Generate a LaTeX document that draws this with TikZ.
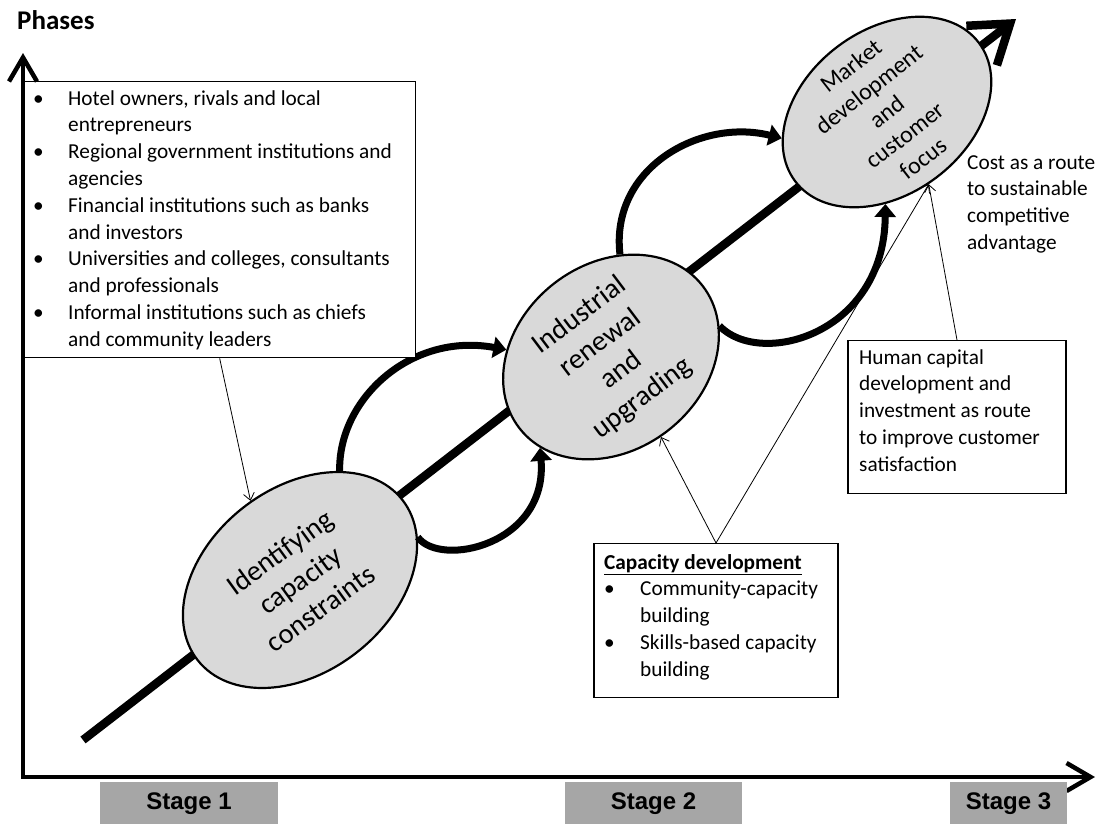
\documentclass[tikz,border=0pt]{standalone}
\usepackage{fontspec}
\setmainfont{Carlito}
\newfontfamily\stagefont{Liberation Sans}
\usetikzlibrary{shapes.geometric,arrows.meta}
\definecolor{ellgray}{RGB}{217,217,217}
\definecolor{stagegray}{RGB}{166,166,166}
\newcommand\bulA{\makebox[35pt][l]{\textbullet}}
\newcommand\bulB{\makebox[36pt][l]{\textbullet}}
\begin{document}
\begin{tikzpicture}[x=1pt,y=-1pt,
  boxtxt/.style={font=\fontsize{21.3}{26.8}\selectfont, anchor=base west, inner sep=0pt},
  etxt/.style={align=center, inner sep=0pt},
  ell/.style={ellipse, draw, line width=2.2pt, fill=ellgray, inner sep=0pt},
  curvearr/.style={line width=7pt, -{Triangle[length=13pt,width=21pt]}},
  thinarr/.style={line width=0.8pt, -{Straight Barb[length=7pt,width=11pt]}},
  infobox/.style={draw, line width=1.3pt, fill=white, inner sep=0pt},
  stagebox/.style={fill=stagegray, inner sep=0pt, minimum height=42pt, anchor=north,
    font=\stagefont\bfseries\fontsize{24}{27}\selectfont},
  axisline/.style={line width=4.5pt, line join=miter}
]
\useasboundingbox (0,0) rectangle (1098,823);

% main diagonal
\coordinate (ms) at (83,740);
\coordinate (me) at (1016,19);
\draw[line width=8.5pt, -{Straight Barb[length=36pt,width=50pt]}] (ms) -- (me);

% ellipses
\node[ell, minimum width=260pt, minimum height=184pt, rotate=38] (e1) at (300,580) {};
\node[ell, minimum width=232pt, minimum height=186pt, rotate=38] (e2) at (611,357) {};
\node[ell, minimum width=230pt, minimum height=164pt, rotate=37] (e3) at (887,112) {};
\node[etxt, rotate=36, font=\fontsize{28.5}{34.5}\selectfont] (t1) at (e1.center) {Identifying\\capacity\\constraints};
\node[etxt, rotate=37, font=\fontsize{28.5}{34.5}\selectfont] (t2) at (e2.center) {Industrial\\renewal\\and\\upgrading};
\node[etxt, rotate=38, font=\fontsize{24}{29.3}\selectfont] (t3) at (e3.center) {Market\\development\\and\\customer\\focus};

% curved arrows
\draw[curvearr] (e1.32) .. controls (338,400) and (410,332) .. (e2.138);
\draw[curvearr] (e1.342) .. controls (440,568) and (548,545) .. (e2.194);
\draw[curvearr] (e2.47) .. controls (610,168) and (700,118) .. (e3.157);
\draw[curvearr] (e2.338) .. controls (760,368) and (884,335) .. (e3.232);

% left box
\node[infobox, minimum width=392pt, minimum height=276pt, anchor=north west] (lbox) at (23,81) {};
\foreach \txt [count=\i from 0] in {{\bulA Hotel owners, rivals and local},{\hspace*{35pt}entrepreneurs},
  {\bulA Regional government institutions and},{\hspace*{35pt}agencies},
  {\bulA Financial institutions such as banks},{\hspace*{35pt}and investors},
  {\bulA Universities and colleges, consultants},{\hspace*{35pt}and professionals},
  {\bulA Informal institutions such as chiefs},{\hspace*{35pt}and community leaders}}
  \node[boxtxt] (l\i) at (33,105+26.8*\i) {\txt};

% capacity box
\node[infobox, minimum width=244pt, minimum height=154pt, anchor=north] (cap) at (716,543) {};
\foreach \txt [count=\i from 0] in {{\underline{\textbf{Capacity development}}},
  {\bulB Community-capacity},{\hspace*{36pt}building},
  {\bulB Skills-based capacity},{\hspace*{36pt}building}}
  \node[boxtxt] (c\i) at (604,569+26.8*\i) {\txt};

% human capital box
\node[infobox, minimum width=218pt, minimum height=153pt, anchor=north] (hum) at (957,340) {};
\foreach \txt [count=\i from 0] in {Human capital,development and,investment as route,to improve customer,satisfaction}
  \node[boxtxt] (h\i) at (859,364+26.8*\i) {\txt};

% cost text
\foreach \txt [count=\i from 0] in {Cost as a route,to sustainable,competitive,advantage}
  \node[boxtxt] (k\i) at (967,169+26.8*\i) {\txt};

% thin arrows
\draw[thinarr] (lbox.south) -- (e1.84);
\draw[thinarr] (cap.north) -- (e2.264);
\draw[thinarr] (cap.north) -- (e3.263);
\draw[thinarr] (hum.north) -- (e3.263);

% axes
\coordinate (ytop) at (23,53);
\coordinate (orig) at (23,777);
\coordinate (xend) at (1095,777);
\draw[axisline, {Straight Barb[length=24pt,width=28pt]}-{Straight Barb[length=24pt,width=28pt]}] (ytop) -- (orig) -- (xend);

% phases
\node[font=\bfseries\fontsize{27}{32}\selectfont, anchor=base west, inner sep=0pt] (ph) at (17,29) {Phases};

% stages
\node[stagebox, minimum width=178pt] (s1) at (189,782) {Stage 1};
\node[stagebox, minimum width=177pt] (s2) at (653.5,782) {Stage 2};
\node[stagebox, minimum width=117pt] (s3) at (1008.5,782) {Stage 3};
\end{tikzpicture}
\end{document}
